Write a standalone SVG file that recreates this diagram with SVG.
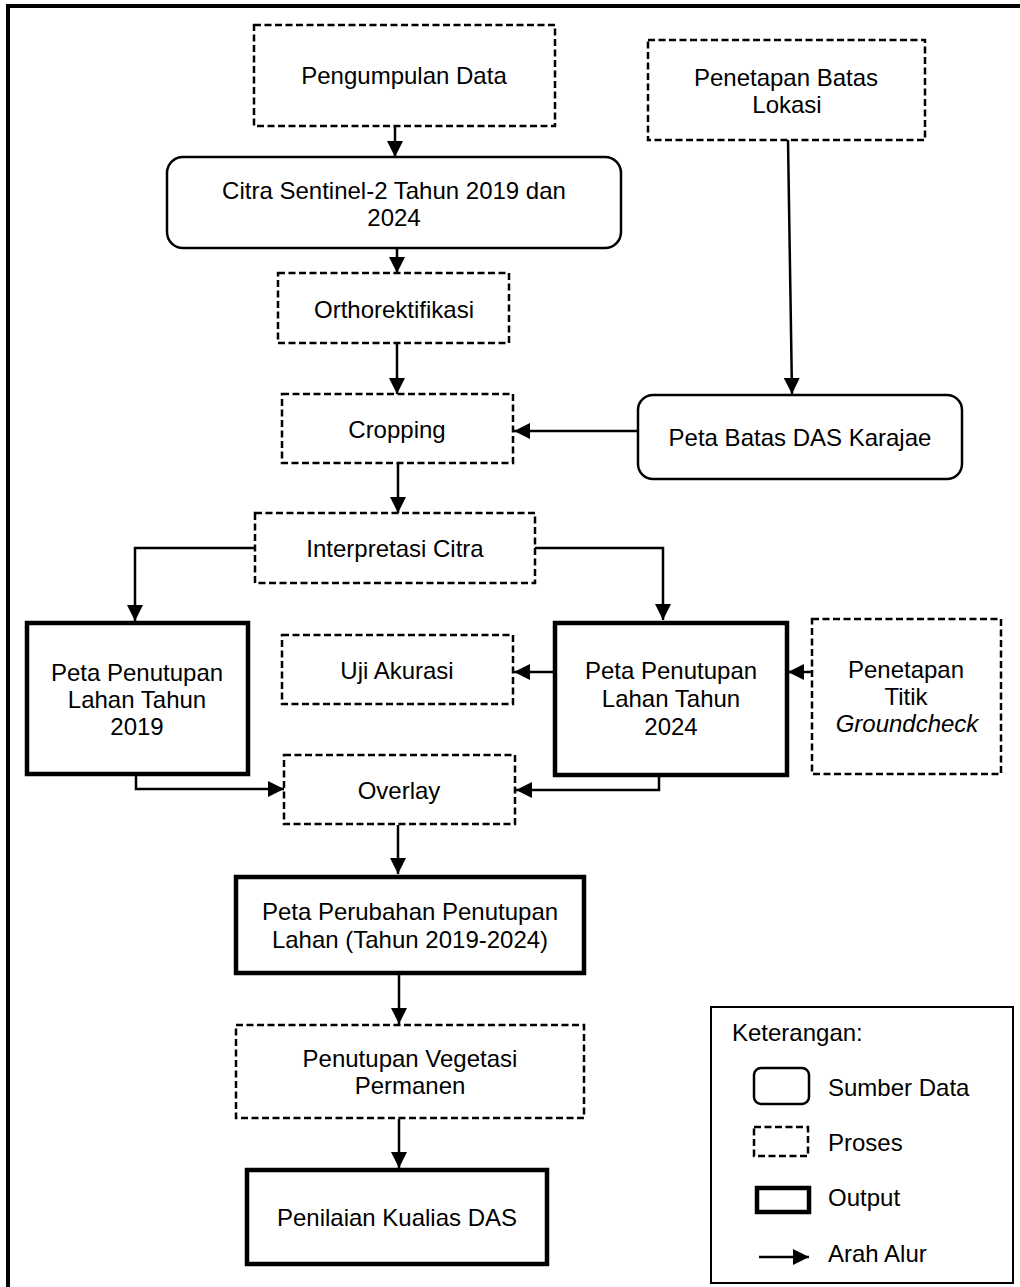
<svg xmlns="http://www.w3.org/2000/svg" width="1020" height="1287" viewBox="0 0 1020 1287">
<style>
text{font-family:"Liberation Sans",Arial,sans-serif;font-size:24px;fill:#000;text-anchor:middle}
.proc{fill:#fff;stroke:#000;stroke-width:2.5;stroke-dasharray:7 3.5}
.src{fill:#fff;stroke:#000;stroke-width:2.5}
.out{fill:#fff;stroke:#000;stroke-width:4.5}
.con{fill:none;stroke:#000;stroke-width:2.5}
.lt{text-anchor:start}
</style>
<defs>
<marker id="ah" markerWidth="16" markerHeight="16" viewBox="0 0 16 16" refX="16" refY="8" orient="auto" markerUnits="userSpaceOnUse">
<path d="M0,0 L16,8 L0,16 Z" fill="#000"/>
</marker>
</defs>
<rect width="1020" height="1287" fill="#fff"/>
<path d="M8,1287 V6 H1020" fill="none" stroke="#000" stroke-width="4"/>

<g id="connectors">
<path class="con" d="M395,126 V157" marker-end="url(#ah)"/>
<path class="con" d="M397,248 V273" marker-end="url(#ah)"/>
<path class="con" d="M397,343 V394" marker-end="url(#ah)"/>
<path class="con" d="M788,140 L792,394" marker-end="url(#ah)"/>
<path class="con" d="M638,431 H514" marker-end="url(#ah)"/>
<path class="con" d="M398,463 V513" marker-end="url(#ah)"/>
<path class="con" d="M255,548 H135 V621" marker-end="url(#ah)"/>
<path class="con" d="M535,548 H663 V620" marker-end="url(#ah)"/>
<path class="con" d="M812,672 H788" marker-end="url(#ah)"/>
<path class="con" d="M554,672 H514" marker-end="url(#ah)"/>
<path class="con" d="M136,776 V789 H284" marker-end="url(#ah)"/>
<path class="con" d="M659,776 V790 H516" marker-end="url(#ah)"/>
<path class="con" d="M398,825 V874" marker-end="url(#ah)"/>
<path class="con" d="M399,975 V1024" marker-end="url(#ah)"/>
<path class="con" d="M399,1119 V1168" marker-end="url(#ah)"/>
</g>

<g id="pengumpulan-data">
<rect class="proc" x="254" y="25" width="301" height="101"/>
<text x="404" y="84">Pengumpulan Data</text>
</g>
<g id="citra-sentinel">
<rect class="src" x="167" y="157" width="454" height="91" rx="16"/>
<text x="394" y="199">Citra Sentinel-2 Tahun 2019 dan</text>
<text x="394" y="226">2024</text>
</g>
<g id="penetapan-batas">
<rect class="proc" x="648" y="40" width="277" height="100"/>
<text x="786" y="86">Penetapan Batas</text>
<text x="787" y="113">Lokasi</text>
</g>
<g id="orthorektifikasi">
<rect class="proc" x="278" y="273" width="231" height="70"/>
<text x="394" y="318">Orthorektifikasi</text>
</g>
<g id="cropping">
<rect class="proc" x="282" y="394" width="231" height="69"/>
<text x="397" y="438">Cropping</text>
</g>
<g id="peta-batas-das">
<rect class="src" x="638" y="395" width="324" height="84" rx="15"/>
<text x="800" y="446">Peta Batas DAS Karajae</text>
</g>
<g id="interpretasi-citra">
<rect class="proc" x="255" y="513" width="280" height="70"/>
<text x="395" y="557">Interpretasi Citra</text>
</g>
<g id="peta-2019">
<rect class="out" x="27" y="623" width="221" height="151"/>
<text x="137" y="681">Peta Penutupan</text>
<text x="137" y="708">Lahan Tahun</text>
<text x="137" y="735">2019</text>
</g>
<g id="uji-akurasi">
<rect class="proc" x="282" y="635" width="231" height="69"/>
<text x="397" y="679">Uji Akurasi</text>
</g>
<g id="peta-2024">
<rect class="out" x="555" y="623" width="232" height="152"/>
<text x="671" y="679">Peta Penutupan</text>
<text x="671" y="707">Lahan Tahun</text>
<text x="671" y="735">2024</text>
</g>
<g id="groundcheck">
<rect class="proc" x="812" y="619" width="189" height="155"/>
<text x="906" y="678">Penetapan</text>
<text x="906" y="705">Titik</text>
<text x="907" y="732" font-style="italic">Groundcheck</text>
</g>
<g id="overlay">
<rect class="proc" x="284" y="755" width="231" height="69"/>
<text x="399" y="799">Overlay</text>
</g>
<g id="peta-perubahan">
<rect class="out" x="236" y="877" width="348" height="96"/>
<text x="410" y="920">Peta Perubahan Penutupan</text>
<text x="410" y="948">Lahan (Tahun 2019-2024)</text>
</g>
<g id="vegetasi-permanen">
<rect class="proc" x="236" y="1025" width="348" height="93"/>
<text x="410" y="1067">Penutupan Vegetasi</text>
<text x="410" y="1094">Permanen</text>
</g>
<g id="penilaian-kualitas">
<rect class="out" x="247" y="1170" width="300" height="94"/>
<text x="397" y="1226">Penilaian Kualias DAS</text>
</g>

<g id="legend">
<rect x="711" y="1007" width="302" height="276" fill="#fff" stroke="#000" stroke-width="2"/>
<text class="lt" x="732" y="1041">Keterangan:</text>
<rect class="src" x="754" y="1068" width="55" height="36" rx="7"/>
<text class="lt" x="828" y="1096">Sumber Data</text>
<rect class="proc" x="754" y="1127" width="54" height="29"/>
<text class="lt" x="828" y="1151">Proses</text>
<rect class="out" x="757" y="1188" width="52" height="24"/>
<text class="lt" x="828" y="1206">Output</text>
<path class="con" d="M759,1257 H809" marker-end="url(#ah)"/>
<text class="lt" x="828" y="1262">Arah Alur</text>
</g>
</svg>
